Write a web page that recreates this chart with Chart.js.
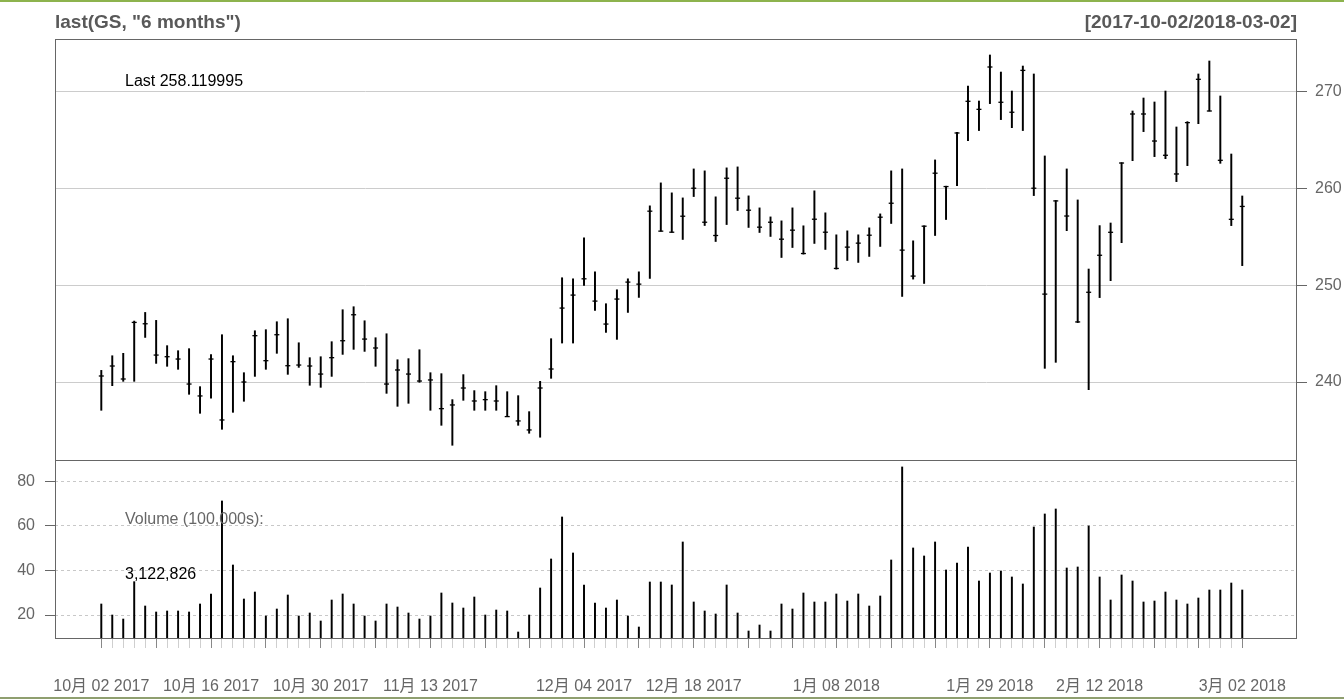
<!DOCTYPE html>
<html lang="zh">
<head>
<meta charset="UTF-8">
<title>last(GS, "6 months")</title>
<script src="https://cdn.jsdelivr.net/npm/chart.js"></script>
<style>
    html, body { margin: 0; padding: 0; background: #fff; }
    body {
        width: 1344px; height: 699px; position: relative; overflow: hidden;
        font-family: "Liberation Sans", Arial, "Noto Sans CJK SC", sans-serif;
    }
    .frame-top { position: absolute; left: 0; top: 0; width: 1344px; height: 2px; background: #8db34d; }
    .frame-bottom { position: absolute; left: 0; top: 697px; width: 1344px; height: 2px; background: #8f9f6f; }
    canvas { position: absolute; left: 0; }
    #priceChart { top: 0; }
    #volChart { top: 460px; }
    .txt { position: absolute; white-space: nowrap; line-height: 1; transform: translateY(-50%); }
    .title { font-weight: bold; font-size: 19px; color: #595959; top: 21px; }
    .note { font-size: 16px; }
</style>
</head>
<body>
<div class="frame-top"></div>
<canvas id="priceChart" width="1344" height="461"></canvas>
<canvas id="volChart" width="1344" height="239"></canvas>
<div class="txt title" style="left:55px;">last(GS, "6 months")</div>
<div class="txt title" style="right:47px;">[2017-10-02/2018-03-02]</div>
<div class="txt note" style="left:125px; top:81px; color:#000;">Last 258.119995</div>
<div class="txt note" style="left:125px; top:519px; color:#666;">Volume (100,000s):</div>
<div class="txt note" style="left:125px; top:574px; color:#000;">3,122,826</div>
<div class="frame-bottom"></div>

<script>
// trading days shown
const dates = [
    '2017-10-02','2017-10-03','2017-10-04','2017-10-05','2017-10-06',
    '2017-10-09','2017-10-10','2017-10-11','2017-10-12','2017-10-13',
    '2017-10-16','2017-10-17','2017-10-18','2017-10-19','2017-10-20',
    '2017-10-23','2017-10-24','2017-10-25','2017-10-26','2017-10-27',
    '2017-10-30','2017-10-31','2017-11-01','2017-11-02','2017-11-03',
    '2017-11-06','2017-11-07','2017-11-08','2017-11-09','2017-11-10',
    '2017-11-13','2017-11-14','2017-11-15','2017-11-16','2017-11-17',
    '2017-11-20','2017-11-21','2017-11-22','2017-11-24',
    '2017-11-27','2017-11-28','2017-11-29','2017-11-30','2017-12-01',
    '2017-12-04','2017-12-05','2017-12-06','2017-12-07','2017-12-08',
    '2017-12-11','2017-12-12','2017-12-13','2017-12-14','2017-12-15',
    '2017-12-18','2017-12-19','2017-12-20','2017-12-21','2017-12-22',
    '2017-12-26','2017-12-27','2017-12-28','2017-12-29',
    '2018-01-02','2018-01-03','2018-01-04','2018-01-05',
    '2018-01-08','2018-01-09','2018-01-10','2018-01-11','2018-01-12',
    '2018-01-16','2018-01-17','2018-01-18','2018-01-19',
    '2018-01-22','2018-01-23','2018-01-24','2018-01-25','2018-01-26',
    '2018-01-29','2018-01-30','2018-01-31','2018-02-01','2018-02-02',
    '2018-02-05','2018-02-06','2018-02-07','2018-02-08','2018-02-09',
    '2018-02-12','2018-02-13','2018-02-14','2018-02-15','2018-02-16',
    '2018-02-20','2018-02-21','2018-02-22','2018-02-23',
    '2018-02-26','2018-02-27','2018-02-28','2018-03-01','2018-03-02'
];

const high = [
    241.20, 242.71, 242.96, 246.29, 247.18, 246.36, 243.75, 243.23, 243.44, 239.52,
    242.82, 244.88, 242.71, 240.96, 245.29, 245.40, 246.22, 246.53, 244.05, 242.51,
    242.61, 244.16, 247.46, 247.77, 246.32, 244.57, 244.98, 242.30, 242.41, 243.33,
    240.96, 240.86, 238.18, 240.76, 239.11, 239.00, 239.62, 239.00, 238.59, 236.94,
    240.07, 244.47, 250.76, 250.65, 254.88, 251.37, 248.08, 249.52, 250.65, 251.37,
    258.18, 260.55, 259.52, 259.00, 261.99, 261.79, 259.11, 262.10, 262.20, 259.21,
    257.97, 257.04, 256.63, 257.97, 256.12, 259.73, 257.46, 255.19, 255.60, 255.19,
    255.91, 257.35, 261.79, 261.99, 254.57, 256.12, 262.92, 260.21, 265.77, 270.55,
    269.00, 273.75, 271.99, 270.03, 272.61, 271.79, 263.33, 258.73, 261.99, 258.79,
    251.66, 256.14, 256.41, 262.64, 267.97, 269.31, 268.90, 270.03, 266.32, 266.87,
    271.79, 273.13, 269.52, 263.53, 259.20
];
const low = [
    237.08, 239.62, 240.07, 240.07, 244.60, 241.92, 241.62, 241.31, 238.73, 236.77,
    238.32, 235.12, 236.87, 238.01, 240.58, 241.31, 242.96, 240.79, 241.51, 239.66,
    239.45, 240.58, 242.85, 243.37, 243.16, 241.62, 238.83, 237.49, 237.80, 239.97,
    237.08, 235.53, 233.47, 238.11, 237.08, 237.08, 237.08, 236.43, 235.53, 234.71,
    234.30, 240.38, 244.02, 244.02, 249.97, 247.39, 245.12, 244.40, 247.18, 248.73,
    250.69, 255.57, 255.46, 254.71, 259.14, 256.15, 254.50, 256.25, 257.70, 255.95,
    255.43, 255.02, 252.85, 253.88, 253.20, 254.30, 253.68, 251.65, 252.54, 252.34,
    252.96, 253.99, 256.36, 248.83, 250.62, 250.17, 255.12, 256.77, 260.27, 264.91,
    265.95, 268.73, 267.08, 266.25, 265.95, 259.24, 241.41, 242.03, 255.62, 246.13,
    239.21, 248.71, 250.46, 254.38, 262.84, 265.84, 263.26, 263.05, 260.68, 262.33,
    266.66, 267.97, 262.57, 256.14, 252.01
];
const close = [
    240.62, 241.65, 240.31, 246.15, 246.01, 242.78, 242.61, 242.37, 239.79, 238.56,
    242.37, 236.08, 242.10, 240.00, 244.78, 242.20, 244.88, 241.68, 241.75, 241.65,
    240.82, 242.51, 244.26, 246.94, 244.43, 243.51, 239.79, 241.24, 240.82, 240.10,
    240.21, 237.25, 237.63, 239.38, 238.04, 238.18, 238.04, 236.43, 235.98, 235.05,
    239.38, 241.34, 247.63, 248.97, 250.65, 248.35, 245.98, 248.56, 250.31, 250.10,
    257.63, 255.57, 255.46, 257.11, 260.00, 256.49, 255.12, 261.03, 258.97, 257.73,
    255.98, 256.49, 254.74, 255.67, 253.26, 256.80, 255.46, 251.72, 253.92, 254.33,
    255.15, 257.01, 258.45, 253.61, 250.93, 256.08, 261.55, 260.17, 265.70, 268.97,
    268.14, 272.51, 268.87, 267.84, 272.16, 260.00, 249.07, 258.69, 257.13, 246.20,
    249.26, 253.08, 255.45, 262.60, 267.66, 267.66, 264.87, 263.40, 261.47, 266.77,
    271.24, 267.97, 262.88, 256.79, 258.12
];
// volume in 100,000s
const volume = [
    24.94, 20.00, 18.20, 34.96, 24.04, 21.35, 21.80, 21.80, 21.35, 24.94,
    29.43, 71.17, 42.44, 27.18, 30.32, 19.55, 22.69, 28.98, 19.55, 20.90,
    17.31, 26.73, 29.43, 24.94, 19.55, 17.31, 24.94, 23.59, 20.90, 18.20,
    19.55, 29.88, 25.39, 23.14, 28.08, 20.00, 22.24, 21.80, 12.37, 20.00,
    32.12, 45.14, 63.99, 47.83, 33.47, 25.39, 23.14, 26.73, 19.55, 14.61,
    34.81, 34.81, 33.47, 52.77, 25.84, 21.80, 20.45, 33.47, 20.90, 12.82,
    15.51, 12.82, 24.94, 22.69, 29.88, 25.84, 25.84, 29.43, 26.28, 29.43,
    24.04, 28.53, 44.69, 86.44, 50.08, 46.49, 52.77, 40.20, 43.34, 50.53,
    35.26, 38.85, 39.75, 37.06, 33.92, 59.50, 65.34, 67.58, 41.10, 41.55,
    59.95, 37.06, 26.73, 37.96, 35.26, 25.84, 26.28, 30.32, 26.73, 24.94,
    27.63, 31.22, 31.22, 34.36, 31.23
];

const tickDates = ['2017-10-02', '2017-10-16', '2017-10-30', '2017-11-13', '2017-12-04',
                   '2017-12-18', '2018-01-08', '2018-01-29', '2018-02-12', '2018-03-02'];
const tickLabels = ['10月 02 2017', '10月 16 2017', '10月 30 2017', '11月 13 2017', '12月 04 2017',
                    '12月 18 2017', '1月 08 2018', '1月 29 2018', '2月 12 2018', '3月 02 2018'];
const priceTicks = [240, 250, 260, 270];
const volumeTicks = [20, 40, 60, 80];

Chart.defaults.font.family = '"Liberation Sans", Arial, "Noto Sans CJK SC", sans-serif';

// label text per bar index, and which bars start a new week
const labelAt = {};
tickDates.forEach((d, k) => { labelAt[dates.indexOf(d)] = tickLabels[k]; });
const weekday = d => new Date(d + 'T00:00:00Z').getUTCDay();
const isMajor = dates.map((d, i) => i === 0 || i === dates.length - 1 || weekday(d) <= weekday(dates[i - 1]));

const xMin = -4.22, xMax = 108.99;

// grey box round each panel, like the R device
const panelBox = {
    id: 'panelBox',
    afterDraw(chart) {
        const { ctx, chartArea: a } = chart;
        ctx.save();
        ctx.strokeStyle = '#666';
        ctx.lineWidth = 1;
        ctx.strokeRect(a.left + 0.5, a.top + 0.5, a.right - a.left - 1, a.bottom - a.top);
        ctx.restore();
    }
};

// fixed axis size, no extra room for the end labels
const fixWidth = w => s => { s.width = w; s.paddingTop = 0; s.paddingBottom = 0; };
const fixHeight = h => s => { s.height = h; s.paddingLeft = 0; s.paddingRight = 0; };

const common = {
    responsive: false,
    animation: false,
    events: [],
    plugins: { legend: { display: false }, tooltip: { enabled: false } }
};

new Chart(document.getElementById('priceChart'), {
    data: {
        datasets: [
            {
                type: 'bar',
                data: dates.map((d, i) => ({ x: i, y: [low[i], high[i]] })),
                backgroundColor: '#000',
                barThickness: 1.3,
                grouped: false
            },
            {
                type: 'line',
                data: dates.map((d, i) => ({ x: i, y: close[i] })),
                showLine: false,
                pointStyle: 'line',
                pointRadius: 2.5,
                pointBorderWidth: 1.3,
                pointBorderColor: '#000',
                pointBackgroundColor: '#000'
            }
        ]
    },
    options: {
        ...common,
        layout: { autoPadding: false, padding: { left: 55, top: 39, right: 0, bottom: 1 } },
        scales: {
            x: { type: 'linear', min: xMin, max: xMax, offset: false, display: false },
            y: {
                position: 'right',
                min: 231.95,
                max: 275.40,
                afterFit: fixWidth(47),
                afterBuildTicks: s => { s.ticks = priceTicks.map(v => ({ value: v })); },
                grid: { color: '#cccccc', tickColor: '#666', tickLength: 10 },
                border: { display: false },
                ticks: { color: '#666', font: { size: 16 }, padding: 8 }
            }
        }
    },
    plugins: [panelBox]
});

new Chart(document.getElementById('volChart'), {
    type: 'bar',
    data: {
        datasets: [{
            data: dates.map((d, i) => ({ x: i, y: volume[i] })),
            backgroundColor: '#000',
            barThickness: 1.3,
            grouped: false
        }]
    },
    options: {
        ...common,
        layout: { autoPadding: false, padding: { left: 0, top: 0, right: 47, bottom: 0 } },
        scales: {
            x: {
                type: 'linear', min: xMin, max: xMax, offset: false,
                afterFit: fixHeight(61),
                afterBuildTicks: s => { s.ticks = dates.map((d, i) => ({ value: i })); },
                grid: {
                    offset: false,
                    drawOnChartArea: false,
                    tickLength: 10,
                    tickColor: c => isMajor[c.index] ? '#888' : '#cfcfcf'
                },
                border: { display: false },
                ticks: {
                    autoSkip: false, maxRotation: 0, minRotation: 0,
                    color: '#666', font: { size: 16 }, padding: 29,
                    callback: (v, i) => labelAt[i] || ''
                }
            },
            y: {
                position: 'left',
                min: 9.68,
                max: 89.56,
                afterFit: fixWidth(55),
                afterBuildTicks: s => { s.ticks = volumeTicks.map(v => ({ value: v })); },
                grid: { color: '#c8c8c8', tickColor: '#666', tickLength: 10 },
                border: { display: false, dash: [3, 3] },
                ticks: { color: '#666', font: { size: 16 }, padding: 10 }
            }
        }
    },
    plugins: [panelBox]
});
</script>
</body>
</html>
